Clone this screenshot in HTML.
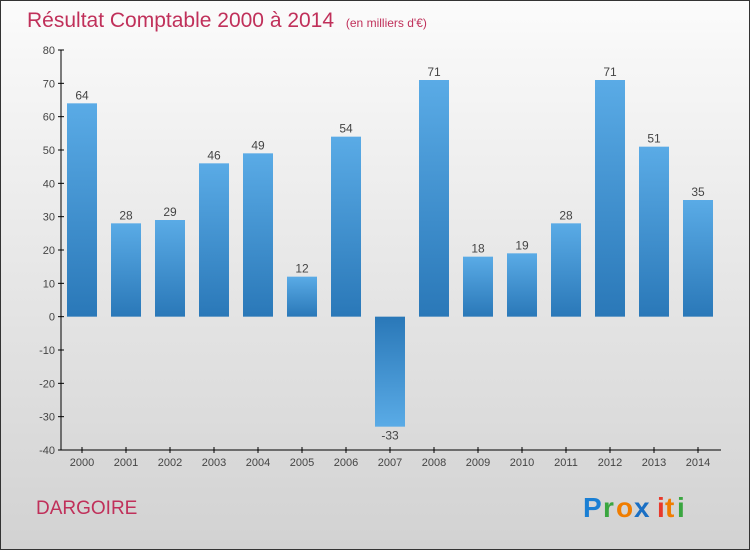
<!DOCTYPE html>
<html><head><meta charset="utf-8"><style>
html,body{margin:0;padding:0}
body{width:750px;height:550px;overflow:hidden;font-family:"Liberation Sans",sans-serif}
</style></head><body>
<svg width="750" height="550" xmlns="http://www.w3.org/2000/svg">
<defs>
<linearGradient id="bg" x1="0" y1="0" x2="0" y2="1"><stop offset="0" stop-color="#fbfbfb"/><stop offset="1" stop-color="#d2d2d2"/></linearGradient>
<linearGradient id="bar" x1="0" y1="0" x2="0" y2="1"><stop offset="0" stop-color="#5aabe6"/><stop offset="1" stop-color="#2a78b8"/></linearGradient>
<linearGradient id="barn" x1="0" y1="0" x2="0" y2="1"><stop offset="0" stop-color="#2a78b8"/><stop offset="1" stop-color="#5aabe6"/></linearGradient>
</defs>
<rect x="0.5" y="0.5" width="749" height="549" fill="url(#bg)" stroke="#333"/>
<text x="27" y="27" font-size="21" fill="#c0305a">Résultat Comptable 2000 à 2014 <tspan font-size="12" dx="6">(en milliers d'€)</tspan></text>
<g id="axes"></g>
<g id="bars"></g>
<text x="36" y="514" font-size="19" fill="#c0305a">DARGOIRE</text>
<g font-size="28" font-weight="bold">
<text x="583" y="517" fill="#1a7fd4">P</text><text x="603" y="517" fill="#3aa640">r</text><text x="616" y="517" fill="#f07d00">o</text><text x="634" y="517" fill="#1a6fc4">x</text><text x="657" y="517" fill="#e8392b">i</text><text x="665" y="517" fill="#f07d00">t</text><text x="677" y="517" fill="#3aa640">i</text>
</g>
</svg>
<script>
const categories=["2000","2001","2002","2003","2004","2005","2006","2007","2008","2009","2010","2011","2012","2013","2014"];
const values=[64,28,29,46,49,12,54,-33,71,18,19,28,71,51,35];
const yTicks=[80,70,60,50,40,30,20,10,0,-10,-20,-30,-40];
const NS="http://www.w3.org/2000/svg";
const y=v=>50+(80-v)*400/120;
const x=i=>82+i*44;
function mk(t,a,p){const e=document.createElementNS(NS,t);for(const k in a)e.setAttribute(k,a[k]);p.appendChild(e);return e;}
const ax=document.getElementById('axes'),bg=document.getElementById('bars');
let l=mk('line',{x1:61,y1:y(80),x2:61,y2:y(-40),stroke:'#000'},ax);


l=mk('line',{x1:61,y1:y(-40),x2:721,y2:y(-40),stroke:'#000'},ax);


yTicks.forEach(v=>{
 mk('line',{x1:58,y1:y(v),x2:64,y2:y(v),stroke:'#000'},ax);
 const t=mk('text',{x:55,y:y(v)+4,'font-size':11,fill:'#444','text-anchor':'end'},ax);
 t.textContent=v;
 
 
});
categories.forEach((c,i)=>{
 mk('line',{x1:x(i),y1:y(-40)-3,x2:x(i),y2:y(-40)+3,stroke:'#000'},ax);
 const t=mk('text',{x:x(i),y:y(-40)+16,'font-size':11,fill:'#444','text-anchor':'middle'},ax);
 t.textContent=c;
 
 
 const v=values[i];
 const r=mk('rect',{x:x(i)-15,y:Math.min(y(v),y(0)),width:30,height:Math.abs(y(v)-y(0)),fill:v<0?'url(#barn)':'url(#bar)'},bg);
 
 
 const lb=mk('text',{x:x(i),y:v<0?y(v)+13:y(v)-4,'font-size':12,fill:'#444','text-anchor':'middle'},bg);
 lb.textContent=v;
 
 
});
</script>
</body></html>
